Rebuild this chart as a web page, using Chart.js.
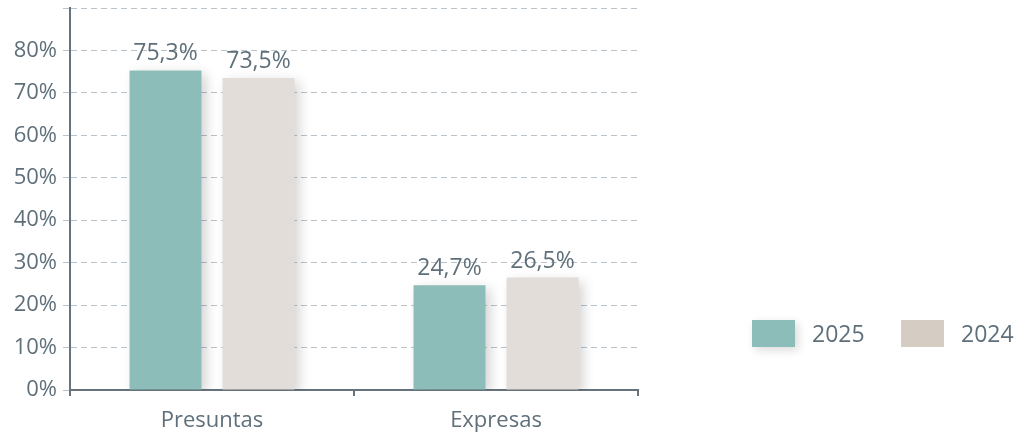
<!DOCTYPE html>
<html>
<head>
<meta charset="utf-8">
<script src="https://cdn.jsdelivr.net/npm/chart.js@4.4.1/dist/chart.umd.min.js"></script>
<style>
  html, body { margin: 0; padding: 0; background: #fff; }
  #wrap { position: relative; width: 1019px; height: 434px; }
  #legend { position: absolute; left: 752px; top: 317px; display: flex; align-items: center;
            font-family: "Open Sans", Lato, sans-serif; font-size: 23px; color: #5f707b; }
  .item { display: flex; align-items: center; width: 149px; }
  .box { width: 43px; height: 27px; margin-right: 17px; }
</style>
</head>
<body>
<div id="wrap">
  <canvas id="myChart" width="1019" height="434"></canvas>
  <div id="legend"></div>
</div>
<script>
var xValues = ["Presuntas", "Expresas"];
var seriesNames = ["2025", "2024"];
var values2025 = [75.3, 24.7];
var values2024 = [73.5, 26.5];
var yTicks = [0, 10, 20, 30, 40, 50, 60, 70, 80, 90];
var barColors = ["#8dbdb9", "#e2ddd8"];
var legendColors = ["#8dbdb9", "#d5cdc3"];

var textColor = "#5f707b";
var axisColor = "#66737d";
var font = "'Open Sans', Lato, sans-serif";

// soft shadow behind bars
var shadowPlugin = {
  id: "barShadow",
  beforeDatasetsDraw: function(chart) {
    var ctx = chart.ctx;
    ctx.save();
    ctx.shadowColor = "rgba(0,0,0,0.18)";
    ctx.shadowBlur = 12;
    ctx.shadowOffsetX = 5;
    ctx.shadowOffsetY = 4;
  },
  afterDatasetsDraw: function(chart) {
    chart.ctx.restore();
  }
};

// value labels above bars
var valueLabels = {
  id: "valueLabels",
  afterDatasetsDraw: function(chart) {
    var ctx = chart.ctx;
    ctx.save();
    ctx.font = "23px " + font;
    ctx.fillStyle = textColor;
    ctx.textAlign = "center";
    ctx.textBaseline = "bottom";
    chart.data.datasets.forEach(function(ds, i) {
      chart.getDatasetMeta(i).data.forEach(function(bar, j) {
        ctx.fillText(ds.data[j].toFixed(1).replace(".", ",") + "%", bar.x, bar.y - 5);
      });
    });
    ctx.restore();
  }
};

new Chart("myChart", {
  type: "bar",
  data: {
    labels: xValues,
    datasets: [{
      label: seriesNames[0],
      backgroundColor: barColors[0],
      data: values2025
    }, {
      label: seriesNames[1],
      backgroundColor: barColors[1],
      data: values2024
    }]
  },
  plugins: [shadowPlugin, valueLabels],
  options: {
    responsive: false,
    animation: false,
    categoryPercentage: 0.655,
    barPercentage: 0.774,
    layout: { padding: { top: 8, right: 381, bottom: 0, left: 0 } },
    plugins: {
      legend: { display: false },
      tooltip: { enabled: false }
    },
    scales: {
      x: {
        afterFit: function(s) { s.height = 44; },
        grid: { offset: true, drawOnChartArea: false, color: axisColor, lineWidth: 2, tickLength: 6 },
        border: { color: axisColor, width: 2 },
        ticks: { color: textColor, font: { family: font, size: 22 }, padding: 12 }
      },
      y: {
        min: 0,
        max: 90,
        afterFit: function(s) { s.width = 70; s.paddingTop = 0; },
        afterBuildTicks: function(s) { s.ticks = yTicks.map(function(v) { return { value: v }; }); },
        grid: { color: "#b9c3c9", tickLength: 7, tickColor: "#b9c3c9", tickBorderDash: [6, 4] },
        border: { color: axisColor, width: 2, dash: [6, 4] },
        ticks: {
          color: textColor,
          font: { family: font, size: 22 },
          padding: 6,
          callback: function(v) { return v === 90 ? "" : v + "%"; }
        }
      }
    }
  }
});

var legend = document.getElementById("legend");
seriesNames.forEach(function(name, i) {
  var item = document.createElement("div");
  item.className = "item";
  var box = document.createElement("div");
  box.className = "box";
  box.style.background = legendColors[i];
  if (i === 0) box.style.boxShadow = "3px 3px 10px rgba(0,0,0,0.15)";
  var label = document.createElement("span");
  label.textContent = name;
  item.appendChild(box);
  item.appendChild(label);
  legend.appendChild(item);
});
</script>
</body>
</html>
